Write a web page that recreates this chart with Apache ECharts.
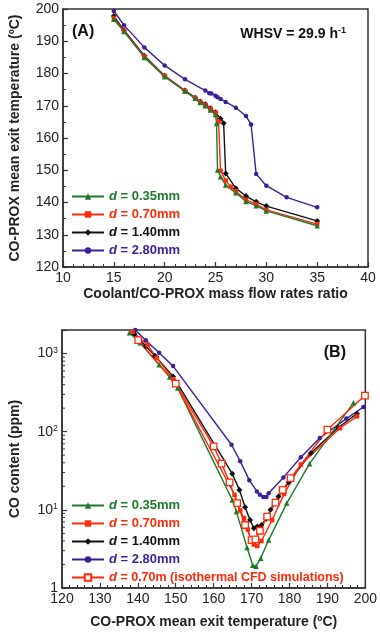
<!DOCTYPE html>
<html><head><meta charset="utf-8">
<script src="https://cdn.jsdelivr.net/npm/echarts/dist/echarts.min.js"></script>
<style>html,body{margin:0;padding:0;background:#fff}#c{width:380px;height:635px}</style>
</head><body><div id="c"></div>
<script>
// ---------- Panel A: exit temperature vs coolant/CO-PROX mass flow ratio ----------
const ratioA035 = [15,16,18,20,22,23,23.5,24,24.5,25,25.1,25.2,25.5,26,27,28,29,30,35];
const tempA035  = [196.8,193,185,179,174.5,172.3,171,170,168.7,167.3,164.5,150.1,148,145.4,143,140.3,139,137.4,132.8];
const ratioA070 = [15,16,18,20,22,23,23.5,24,24.5,25,25.3,25.5,26,26.5,27,28,29,30,35];
const tempA070  = [197.2,193.2,185.3,179.2,174.6,172.4,171.2,170.2,169,167.8,165.1,149.8,146.8,144.9,143.5,140.8,139.5,137.7,133.3];
const ratioA140 = [15,16,18,20,22,23,23.5,24,24.5,25,25.5,25.8,26,27,28,29,30,35];
const tempA140  = [197.8,193.4,185.5,179.3,174.7,172.5,171.3,170.5,169.2,168,166,164.6,149,144.4,142,140.2,138.9,134.3];
const ratioA280 = [15,16,18,20,22,24,24.4,24.6,25,25.2,25.5,26,27,28,28.5,29,30,32,35];
const tempA280  = [199.4,195,188.1,182.5,178.2,174.7,173.9,173.8,173.1,172.6,172.1,171.2,169.4,166.8,164.2,148.8,145.2,141.6,138.5];

// ---------- Panel B: CO content vs exit temperature ----------
const tempB035 = [137.8,140.6,145.6,148.4,150.5,164.9,166,168.8,170.3,171.2,172.4,174.5,179.3,185.3,196.9];
const coB035   = [1840,1370,720,500,363,13.4,9.5,3.3,1.95,1.9,2.4,4.1,12.2,39,235];
const tempB070 = [138.6,142.6,145,149.3,165.5,167,168,169,169.9,170.6,171.5,172.6,175.4,178.6,183,193.3,197.8];
const coB070   = [1900,1280,880,470,15.6,9.8,7.8,5.6,4.1,3.6,3.45,4.0,7.4,16,38,111,157];
const tempB140 = [139.1,142.1,144.5,149.3,164.9,166.8,168.3,169.6,170.6,171.5,172.6,173.9,175,177.1,179.8,185.6,192.9,197.8];
const coB140   = [1780,1240,940,510,29,18,10.8,7.4,5.8,6.1,6.4,7.7,10,14.8,22.5,53,113,170];
const tempB280 = [139.3,142.1,145.6,149.3,164.7,167,169.4,171.4,172.2,173.1,173.9,174.5,178.4,183,188,195,199.5];
const coB280   = [2000,1480,1020,690,68,42,24,17.2,15.6,14.6,14.6,16.3,26,47,83,147,207];
const tempBcfd = [140.1,150,160,162.1,164.2,166.2,168.3,170,171,172.2,174.1,176.3,178.2,180.3,190,199.9];
const coBcfd   = [1480,412,65,39,22.4,12.2,6.4,4.1,4.2,5.4,8.2,12.4,18,25.5,106,290];

const names = ['d = 0.35mm','d = 0.70mm','d = 1.40mm','d = 2.80mm','d = 0.70m (isothermal CFD simulations)'];
const logMinorTicks = [2,3,4,5,6,7,8,9,20,30,40,50,60,70,80,90,200,300,400,500,600,700,800,900];

const C_GREEN = '#1c7a2a', C_RED = '#ff2a0a', C_BLACK = '#111111', C_PURPLE = '#3b1f96';
const FONT = 'Liberation Sans, Arial, sans-serif';
const zip = (a,b) => a.map((v,i)=>[v,b[i]]);

const chart = echarts.init(document.getElementById('c'), null, {renderer:'canvas'});

const axisCommon = {
  axisLine:{show:true, onZero:false, lineStyle:{color:'#333', width:1.5}},
  axisTick:{show:true, inside:true, length:5, lineStyle:{color:'#333', width:1.2}},
  minorTick:{show:true, length:3, lineStyle:{color:'#333', width:1}},
  splitLine:{show:false},
  axisLabel:{color:'#222', fontSize:14, fontFamily:FONT, margin:4},
  nameTextStyle:{color:'#222', fontSize:14, fontWeight:'bold', fontFamily:FONT},
  nameLocation:'middle'
};
const withInside = o => Object.assign({}, axisCommon, o, {
  minorTick: Object.assign({}, axisCommon.minorTick, o.minorTick||{}),
});

function lineSeries(name, x, y, color, symbol, size, xi, yi, extra) {
  return Object.assign({
    type:'line', name, data:zip(x,y), xAxisIndex:xi, yAxisIndex:yi,
    symbol, symbolSize:size, showSymbol:true,
    lineStyle:{color, width:1.4}, itemStyle:{color},
    emphasis:{disabled:true}
  }, extra||{});
}

const legendFmt = n => n.replace(/^d/, '{i|d}');
const legendRich = {i:{fontStyle:'italic', fontWeight:'bold', fontSize:13, fontFamily:FONT}};

const option = {
  animation:false,
  backgroundColor:'#fff',
  grid:[
    {left:59, right:12, top:9, height:258, show:true, borderColor:'#333', borderWidth:1.5},
    {left:57, right:13, top:330, height:258, show:true, borderColor:'#333', borderWidth:1.5}
  ],
  xAxis:[
    withInside({gridIndex:0, type:'value', min:10, max:40, interval:5,
      minorTick:{splitNumber:5}, name:'Coolant/CO-PROX mass flow rates ratio', nameGap:20}),
    withInside({gridIndex:1, type:'value', min:120, max:200, interval:10,
      minorTick:{splitNumber:5}, name:'CO-PROX mean exit temperature (ºC)', nameGap:27})
  ],
  yAxis:[
    withInside({gridIndex:0, type:'value', min:120, max:200, interval:10,
      minorTick:{splitNumber:2}, name:'CO-PROX mean exit temperature (ºC)', nameGap:41}),
    withInside({gridIndex:1, type:'log', min:1, max:2000, logBase:10,
      minorTick:{show:false}, name:'CO content (ppm)', nameGap:40,
      axisLabel:Object.assign({}, axisCommon.axisLabel, {
        formatter: v => {
          const e = Math.round(Math.log10(v));
          if (Math.abs(Math.log10(v) - e) > 1e-6) return '';
          if (e === 0) return '{b|1}';
          return '{b|10}{s|' + e + '}';
        },
        rich:{ b:{fontSize:14, fontFamily:FONT, color:'#222', lineHeight:16},
               s:{fontSize:9, fontFamily:FONT, color:'#222', verticalAlign:'top', lineHeight:10} }
      })})
  ],
  legend:[
    {orient:'vertical', left:66, top:185, itemGap:5, itemWidth:32, itemHeight:8,
     data:[
       {name:names[0], textStyle:{color:C_GREEN}},
       {name:names[1], textStyle:{color:C_RED}},
       {name:names[2], textStyle:{color:C_BLACK}},
       {name:names[3], textStyle:{color:C_PURPLE}}
     ],
     textStyle:{fontSize:13, fontWeight:'bold', fontFamily:FONT, rich:legendRich},
     formatter:legendFmt, selectedMode:false},
    {orient:'vertical', left:66, top:494, itemGap:5, itemWidth:32, itemHeight:8,
     data:[
       {name:names[0]+' ', textStyle:{color:C_GREEN}},
       {name:names[1]+' ', textStyle:{color:C_RED}},
       {name:names[2]+' ', textStyle:{color:C_BLACK}},
       {name:names[3]+' ', textStyle:{color:C_PURPLE}},
       {name:names[4], textStyle:{color:C_RED, fontSize:12.5}}
     ],
     textStyle:{fontSize:13, fontWeight:'bold', fontFamily:FONT, rich:legendRich},
     formatter:legendFmt, selectedMode:false}
  ],
  graphic:[
    {type:'text', left:72, top:24, style:{text:'(A)', font:'bold 16px '+FONT, fill:'#111'}},
    {type:'text', right:34, top:26, style:{text:'{a|WHSV = 29.9 h}{s|-1}', fill:'#111',
      rich:{a:{font:'bold 14px '+FONT, fill:'#111', lineHeight:16},
            s:{font:'bold 9px '+FONT, fill:'#111', verticalAlign:'top', lineHeight:10}}}},
    {type:'text', right:34, top:345, style:{text:'(B)', font:'bold 16px '+FONT, fill:'#111'}}
  ],
  series:[
    lineSeries(names[3], ratioA280, tempA280, C_PURPLE, 'circle', 4.5, 0, 0),
    lineSeries(names[2], ratioA140, tempA140, C_BLACK, 'diamond', 6, 0, 0),
    lineSeries(names[1], ratioA070, tempA070, C_RED, 'rect', 4.5, 0, 0),
    lineSeries(names[0], ratioA035, tempA035, C_GREEN, 'triangle', 5.5, 0, 0),

    lineSeries(names[3]+' ', tempB280, coB280, C_PURPLE, 'circle', 4.5, 1, 1),
    lineSeries(names[2]+' ', tempB140, coB140, C_BLACK, 'diamond', 6, 1, 1),
    lineSeries(names[0]+' ', tempB035, coB035, C_GREEN, 'triangle', 5.5, 1, 1),
    lineSeries(names[1]+' ', tempB070, coB070, C_RED, 'rect', 4.5, 1, 1),
    lineSeries(names[4], tempBcfd, coBcfd, C_RED, 'rect', 6.5, 1, 1,
      {itemStyle:{color:'#fff', borderColor:C_RED, borderWidth:1.3}}),
    {type:'custom', xAxisIndex:1, yAxisIndex:1, silent:true, z:5,
     data: logMinorTicks.map(v=>[120, v]),
     renderItem:(params, api)=>{
       const p = api.coord([api.value(0), api.value(1)]);
       return {type:'line', shape:{x1:p[0], y1:p[1], x2:p[0]+3, y2:p[1]},
               style:{stroke:'#333', lineWidth:1}};
     }}
  ]
};
chart.setOption(option);
</script></body></html>
